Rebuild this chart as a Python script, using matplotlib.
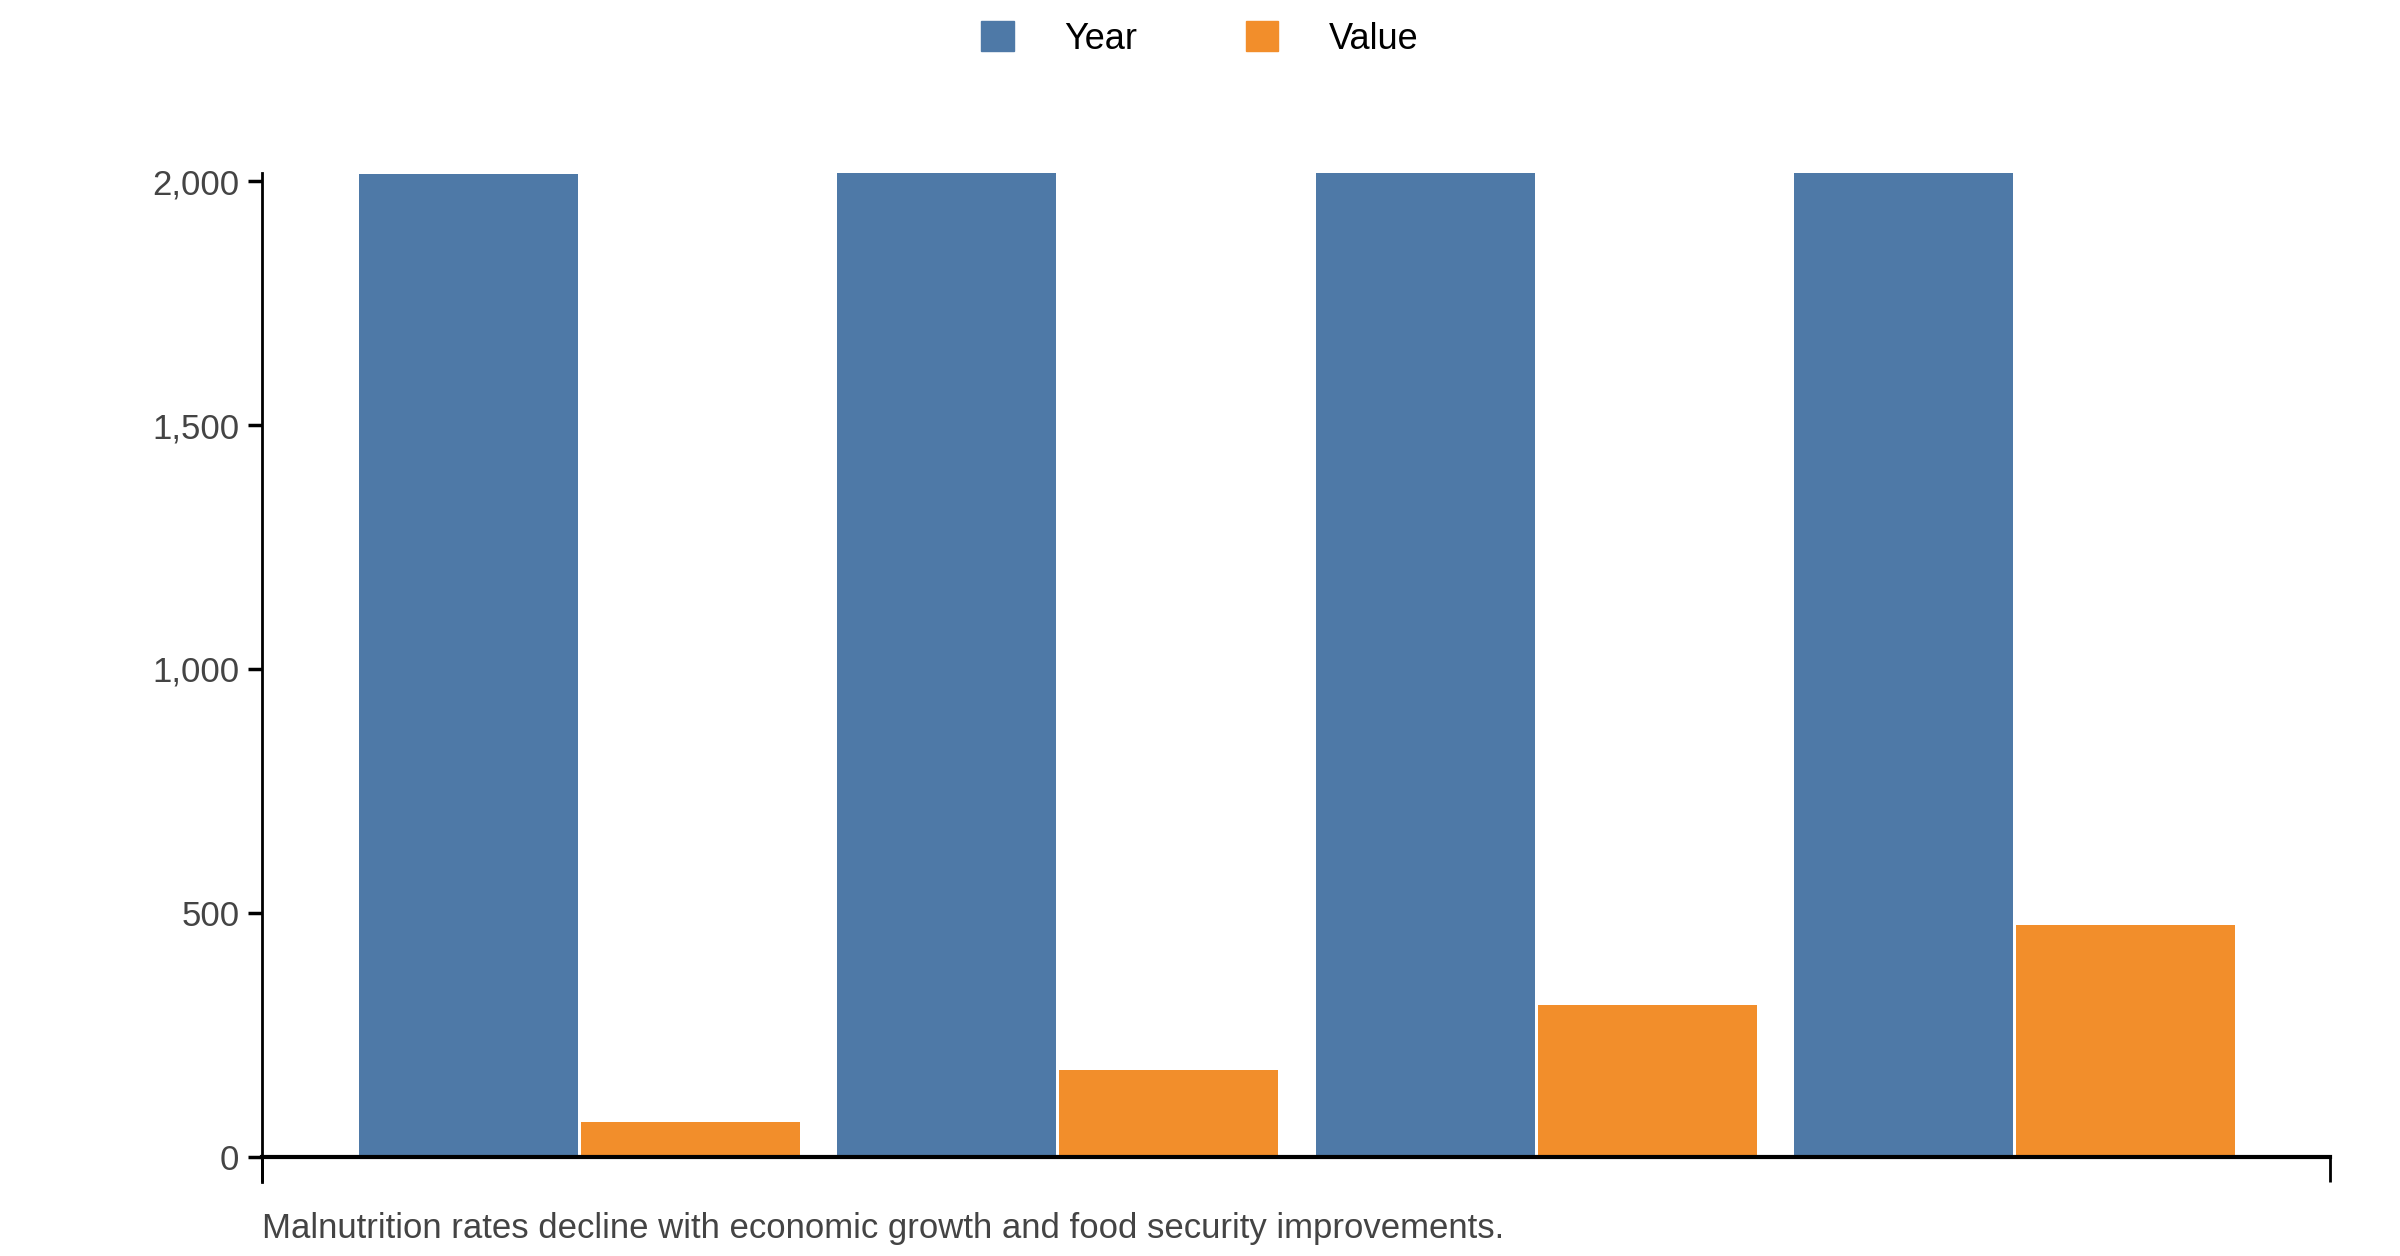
import matplotlib
matplotlib.use("Agg")
import matplotlib.pyplot as plt
import numpy as np
from matplotlib.ticker import FuncFormatter
from matplotlib.patches import Patch

plt.rcParams['font.family'] = ['Liberation Sans', 'DejaVu Sans']

groups = ["2015", "2016", "2017", "2018"]
year = [2015, 2016, 2017, 2018]
value = [72, 177, 312, 476]
series_names = ["Year", "Value"]
colors = ["#4e79a7", "#f28e2b"]
yticks = [0, 500, 1000, 1500, 2000]
caption = "Malnutrition rates decline with economic growth and food security improvements."

fig = plt.figure(figsize=(24, 12.56), dpi=100)
ax = fig.add_axes([0.109, 0.079, 0.862, 0.783])
x = np.arange(len(groups))
w = 0.457
ax.bar(x - 0.232, year, w, color=colors[0])
ax.bar(x + 0.232, value, w, color=colors[1])
xmin, xmax = -0.664, 3.66
ax.set_xlim(xmin, xmax)
ax.set_ylim(0, 2016)
ax.set_yticks(yticks)
ax.yaxis.set_major_formatter(FuncFormatter(lambda v, p: f"{int(v):,}"))
ax.tick_params(axis='y', labelsize=25, labelcolor="#444444", length=10, width=2.5, pad=6)
ax.set_xticks([xmin, xmax])
ax.set_xticklabels([])
ax.tick_params(axis='x', length=18, width=2, direction='out')
for s in ["top", "right"]:
    ax.spines[s].set_visible(False)
ax.spines["left"].set_linewidth(2)
ax.spines["bottom"].set_linewidth(3)
ax.spines["left"].set_bounds(0, 2016)
ax.plot([xmin, xmin], [0, -0.0255 * 2016], color="black", lw=2, clip_on=False)

fig.text(0.109, 0.022, caption, fontsize=25, color="#444444", ha="left", va="center")
handles = [Patch(color=c, label=n) for c, n in zip(colors, series_names)]
fig.legend(handles=handles, loc="center", bbox_to_anchor=(0.5, 0.969), ncol=2,
           frameon=False, fontsize=26, handlelength=0.9, handleheight=0.9,
           columnspacing=3.0, handletextpad=1.4)
fig.savefig("out.png", dpi=100)
